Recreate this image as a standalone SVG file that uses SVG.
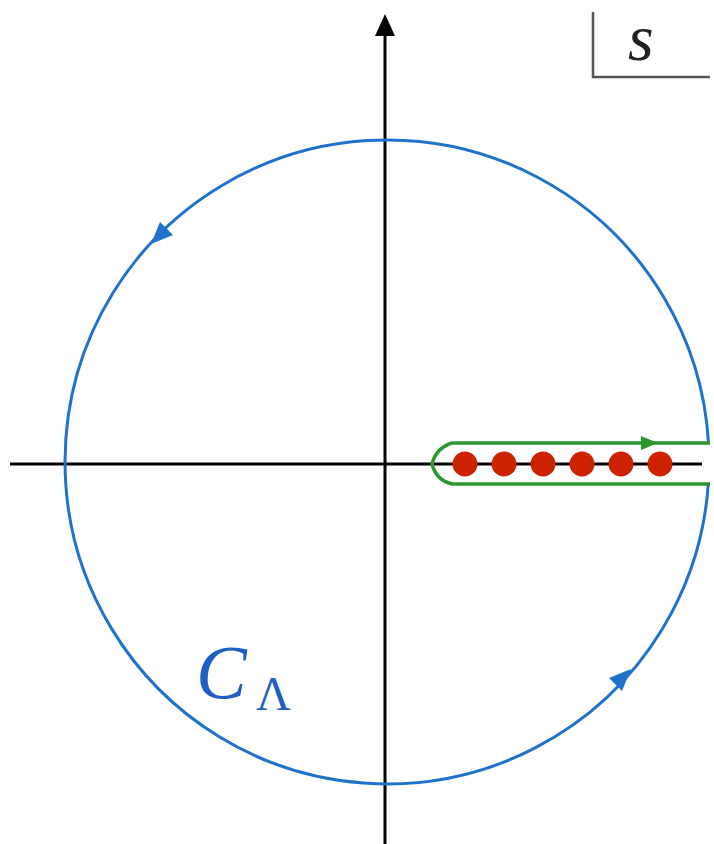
<svg xmlns="http://www.w3.org/2000/svg" width="714" height="844" viewBox="0 0 714 844">
<style>
.ax{stroke:#000;stroke-width:3;fill:none}
.blue{stroke:#1f72cc;stroke-width:3;fill:none}
.green{stroke:#2a982e;stroke-width:3.5;fill:none}
.dot{fill:#cc2200}
text{font-family:"Liberation Serif","Times New Roman","DejaVu Serif",serif}
</style>
<rect width="714" height="844" fill="#fff"/>
<g id="axes">
<line class="ax" x1="10" y1="464" x2="702" y2="464"/>
<line class="ax" x1="385" y1="844" x2="385" y2="32"/>
<path d="M385,14 L375,36 L395,36 z" fill="#000"/>
</g>
<g id="contour-circle">
<path class="blue" d="M708.5,443 A322,322 0 1,0 708.3,484"/>
<path d="M151,244 L160,222 L173,235 z" fill="#1f72cc"/>
<path d="M631,669 L622,691 L609,678 z" fill="#1f72cc"/>
</g>
<g id="contour-green">
<path class="green" d="M710,443 L452,443 Q436,448 432,464 Q436,480 452,484 L710,484"/>
<path d="M658,443 L641,436 L641,450 z" fill="#2a982e"/>
</g>
<g id="poles">
<circle class="dot" cx="465" cy="464" r="12.5"/>
<circle class="dot" cx="504" cy="464" r="12.5"/>
<circle class="dot" cx="543" cy="464" r="12.5"/>
<circle class="dot" cx="582" cy="464" r="12.5"/>
<circle class="dot" cx="621" cy="464" r="12.5"/>
<circle class="dot" cx="660" cy="464" r="12.5"/>
</g>
<g id="s-label">
<path d="M593,12 L593,77 L710,77" stroke="#555" stroke-width="2.5" fill="none"/>
<text x="628" y="60" font-style="italic" font-size="66" fill="#222">s</text>
</g>
<g id="c-label">
<text x="196" y="698" font-style="italic" font-size="76" fill="#1f5fc4">C</text>
<text x="256" y="710" font-size="48" fill="#1f5fc4">Λ</text>
</g>
</svg>
